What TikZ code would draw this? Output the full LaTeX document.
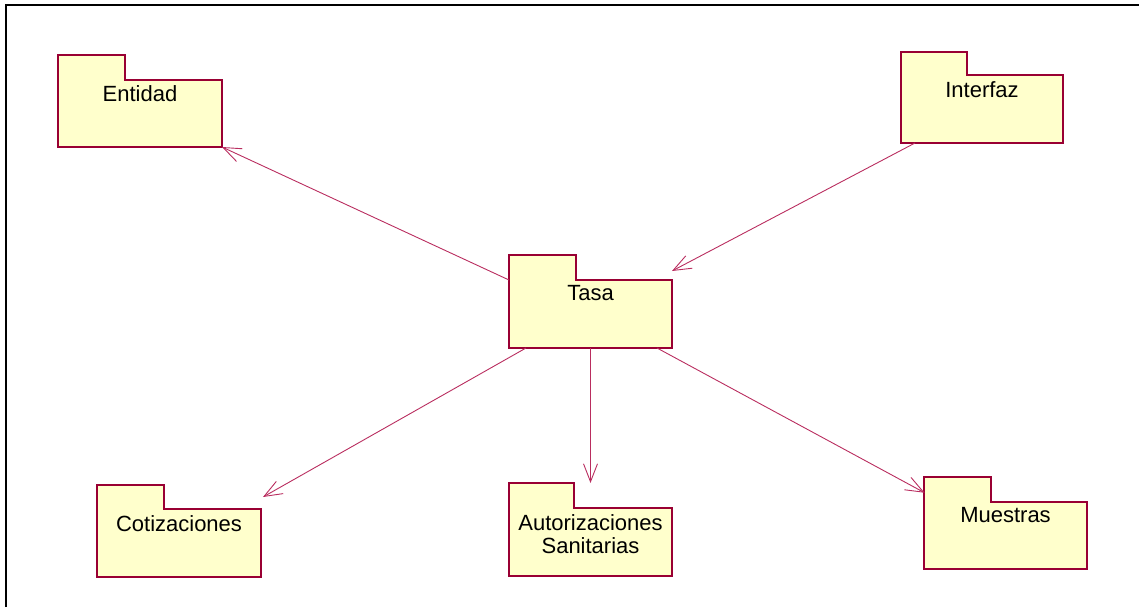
\documentclass[tikz,border=0pt]{standalone}
\usepackage{fontspec}
\setmainfont{Liberation Sans}
\usetikzlibrary{arrows.meta}
\definecolor{pkgfill}{RGB}{255,255,204}
\definecolor{pkgline}{RGB}{153,0,51}
\definecolor{deparrow}{RGB}{185,45,95}

% UML package: #1 name, #2 left, #3 tab right, #4 tab top, #5 body top,
% #6 right, #7 bottom, #8 label, #9 label offset below body top
\newcommand\umlpkg[9]{%
  \node[pkgbody, minimum width={#6-#2}, minimum height={#7-#5},
    label={[pkglabel, yshift=-#9]north:#8}]
    (#1) at ({(#2+#6)/2},{(#5+#7)/2}) {};
  % the tab hides the body's top edge beneath it
  \node[pkgtab, minimum width={#3-#2-1.2}, minimum height={#5-#4+1.5}]
    (#1-tab) at ({(#2+#3)/2},{(#4+#5+1.5)/2}) {};
  \draw[pkgedge] (#2,#5) -- (#2,#4) -- (#3,#4) -- (#3,#5);
}

\begin{document}
\begin{tikzpicture}[x=1pt,y=-1pt,
  pkgtab/.style={fill=pkgfill, inner sep=0pt, outer sep=0pt, rectangle},
  pkgedge/.style={draw=pkgline, line width=1.2pt},
  pkgbody/.style={draw=pkgline, fill=pkgfill, line width=1.2pt,
    inner sep=0pt, outer sep=0pt, rectangle},
  pkglabel/.style={anchor=center, align=center, inner sep=0pt,
    font=\fontsize{22}{23}\selectfont},
  dep/.style={draw=deparrow, line width=0.9pt,
    -{Straight Barb[length=18pt,width=14pt]}}]

\useasboundingbox (0,0) rectangle (1139,607);
\draw[line width=2pt] (6,607) -- (6,5) -- (1139,5);

\umlpkg{entidad}{58}{125}{55}{80}{222}{147}{Entidad}{14}
\umlpkg{interfaz}{901}{967}{52}{75}{1063}{143}{Interfaz}{15}
\umlpkg{tasa}{509}{576}{255}{280}{672}{348}{Tasa}{13}
\umlpkg{cotizaciones}{97}{164}{485}{509}{261}{577}{Cotizaciones}{15}
\umlpkg{autorizaciones}{509}{574}{483}{508}{672}{576}{Autorizaciones\\Sanitarias}{26}
\umlpkg{muestras}{924}{991}{477}{502}{1087}{569}{Muestras}{13}

\draw[dep] (tasa.north west) -- (entidad.south east);
\draw[dep] ([xshift=14pt]interfaz.south west) -- ([yshift=9pt]tasa.north east);
\draw[dep] ([xshift=17pt]tasa.south west) -- ([xshift=2pt,yshift=12pt]cotizaciones.north east);
\draw[dep] (tasa.south) -- ([yshift=25pt]autorizaciones.north);
\draw[dep] ([xshift=-15pt]tasa.south east) -- ([yshift=-2.5pt]muestras-tab.west);
\end{tikzpicture}
\end{document}
